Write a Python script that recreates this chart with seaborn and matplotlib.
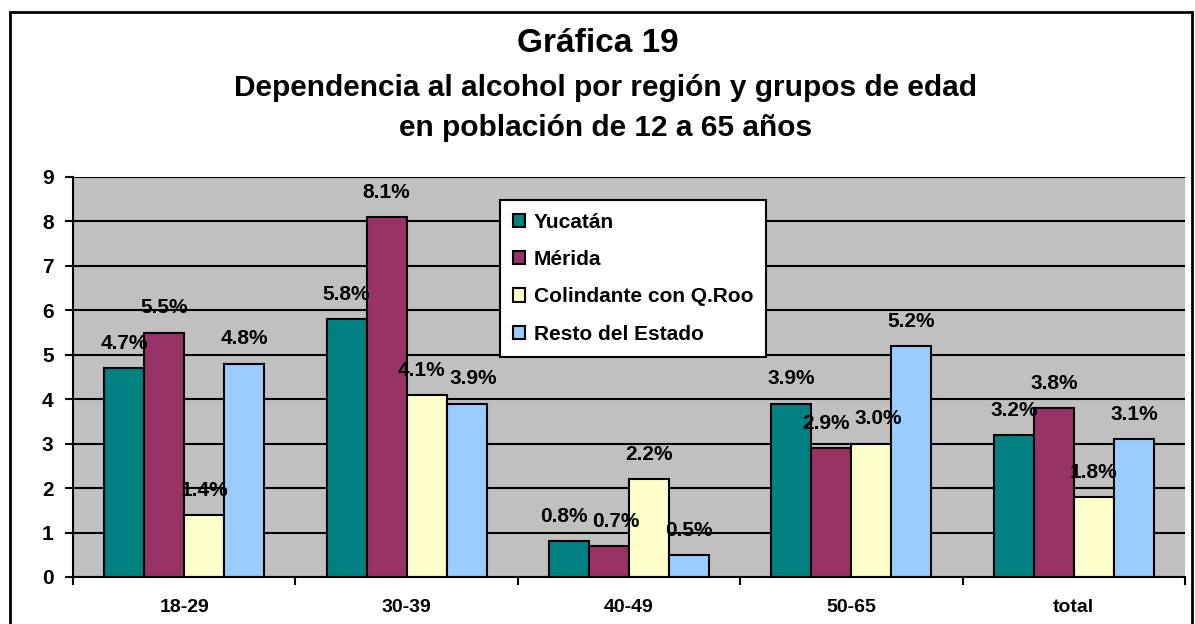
import pandas as pd
import matplotlib
matplotlib.use("Agg")
from matplotlib import pyplot as plt
from matplotlib.patches import Rectangle
import seaborn as sns

# Data
grupos = ["18-29", "30-39", "40-49", "50-65", "total"]
regiones = ["Yucatán", "Mérida", "Colindante con Q.Roo", "Resto del Estado"]
yucatan = [4.7, 5.8, 0.8, 3.9, 3.2]
merida = [5.5, 8.1, 0.7, 2.9, 3.8]
colindante = [1.4, 4.1, 2.2, 3.0, 1.8]
resto = [4.8, 3.9, 0.5, 5.2, 3.1]

COLORS = ["#008080", "#993366", "#FFFFCC", "#99CCFF"]

rows = []
for reg, vals in zip(regiones, [yucatan, merida, colindante, resto]):
    for g, v in zip(grupos, vals):
        rows.append({"grupo": g, "region": reg, "valor": v})
df = pd.DataFrame(rows)

sns.set_style("white")
plt.rcParams['font.family'] = ['Liberation Sans', 'DejaVu Sans']
plt.rcParams['font.weight'] = 'bold'
plt.rc('text', color='black')
plt.rc('xtick', color='black')
plt.rc('ytick', color='black')
plt.rc('axes', labelcolor='black')

fig = plt.figure(figsize=(11.95, 6.24), dpi=100)
ax = fig.add_axes([73 / 1195, 1 - 577 / 624, 1112 / 1195, 400 / 624])
ax.set_facecolor("#C0C0C0")

sns.barplot(data=df, x="grupo", y="valor", hue="region", order=grupos,
            hue_order=regiones, palette=COLORS, width=0.72, gap=0,
            edgecolor="black", linewidth=1.5, saturation=1, ax=ax)

# value labels; nudge neighbours of similar height apart (like Excel does)
bars = [list(c) for c in ax.containers]
n_h = len(bars)
for gi in range(len(grupos)):
    heights = [bars[h][gi].get_height() for h in range(n_h)]
    for h in range(n_h):
        p = bars[h][gi]
        dx = 0
        if h + 1 < n_h and abs(heights[h] - heights[h + 1]) < 0.35:
            dx -= 4
        if h > 0 and abs(heights[h] - heights[h - 1]) < 0.35:
            dx += 5
        ax.annotate(f"{heights[h]:.1f}%", (p.get_x() + p.get_width() / 2, heights[h]),
                    xytext=(dx, 11), textcoords="offset points", ha="center",
                    va="bottom", fontsize=15, fontweight="bold", color="black")

ax.set_ylim(0, 9)
ax.set_xlim(-0.5, 4.5)
ax.set_yticks(range(0, 10))
ax.yaxis.grid(True, color="black", linewidth=1.5)
ax.set_axisbelow(True)
ax.set_xlabel("")
ax.set_ylabel("")
for s in ["top", "right"]:
    ax.spines[s].set_visible(False)
for s in ["left", "bottom"]:
    ax.spines[s].set_color("black")
    ax.spines[s].set_linewidth(1.5)

ax.tick_params(axis="y", which="major", direction="out", length=6, width=1.5,
               labelsize=15, pad=8, left=True)
ax.tick_params(axis="x", which="major", length=0, labelsize=14, pad=16)
ax.set_xticks([i - 0.5 for i in range(len(grupos) + 1)], minor=True)
ax.tick_params(axis="x", which="minor", direction="out", length=6, width=1.5, bottom=True)
for t in ax.get_xticklabels() + ax.get_yticklabels():
    t.set_fontweight("bold")

leg = ax.legend(loc="upper left", bbox_to_anchor=(0.384, 0.943), frameon=True,
                fancybox=False, edgecolor="black", framealpha=1,
                prop={"weight": "bold", "size": 15}, handlelength=0.6,
                handleheight=0.6, handletextpad=0.4, labelspacing=0.88,
                borderpad=0.62, borderaxespad=0)
leg.get_frame().set_linewidth(1.5)

fig.text(0.5, 1 - 44 / 624, "Gráfica 19", ha="center", va="center",
         fontsize=24, fontweight="bold")
fig.text(0.507, 1 - 88 / 624, "Dependencia al alcohol por región y grupos de edad",
         ha="center", va="center", fontsize=21.5, fontweight="bold")
fig.text(0.507, 1 - 128 / 624, "en población de 12 a 65 años",
         ha="center", va="center", fontsize=21.5, fontweight="bold")

fig.patches.append(Rectangle((10 / 1195, -0.02), 1182 / 1195, 1 - 12 / 624 + 0.02,
                             transform=fig.transFigure, fill=False,
                             edgecolor="black", linewidth=2))

fig.savefig("out.png", dpi=100)
